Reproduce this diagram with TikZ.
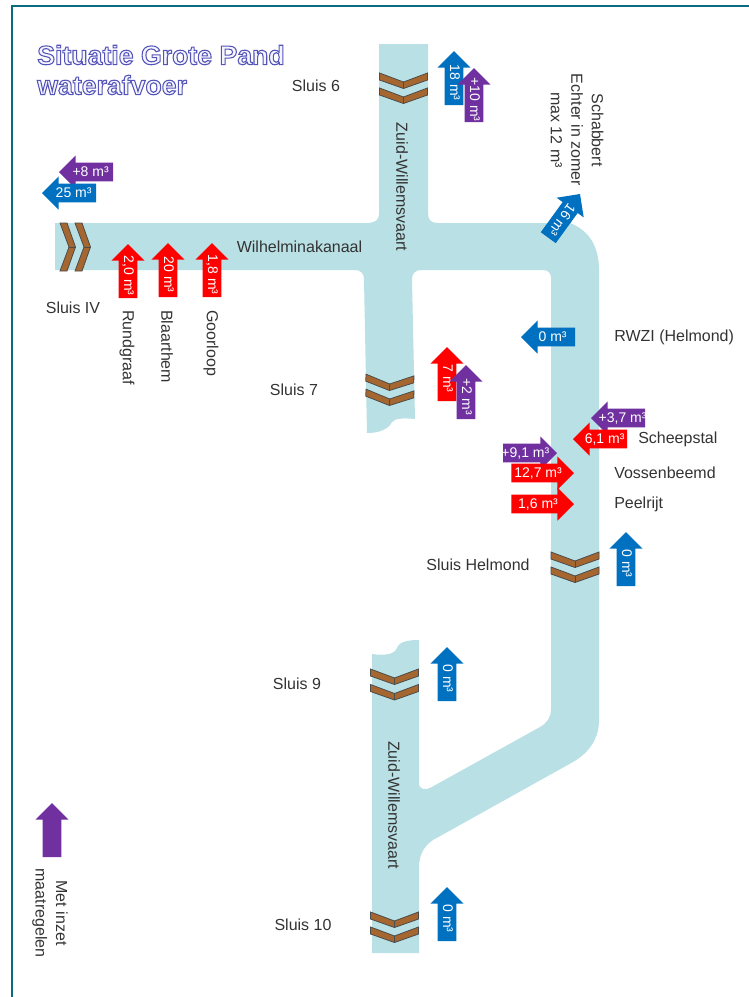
\documentclass[tikz,border=0pt]{standalone}
\usepackage{fontspec}
\setmainfont{Liberation Sans}
\usetikzlibrary{shapes.arrows}

\definecolor{waterkleur}{HTML}{B9E0E4}
\definecolor{kaderkleur}{HTML}{0A6A80}
\definecolor{sluiskleur}{HTML}{A5672F}
\definecolor{blauw}{HTML}{0070C0}
\definecolor{rood}{HTML}{FF0000}
\definecolor{paars}{HTML}{7030A0}
\definecolor{tekstkleur}{HTML}{333333}

\newcommand{\titelregel}[1]{\special{pdf:code 2 Tr 0.8 w 0.33 0.33 0.72 RG 0.96 0.96 1 rg}#1\special{pdf:code 0 Tr}}
\newcommand{\pijltekst}[2][28pt]{\makebox[#1]{#2}}

\tikzset{
  pijl/.style={single arrow, draw=none, anchor=tip, text=white, inner xsep=0pt, inner ysep=0pt, outer sep=0pt,
    single arrow head extend=5.6pt, minimum height=40.5pt,
    text height=9.75pt, text depth=3.75pt,
    font=\fontsize{10.5}{12}\selectfont},
  omhoog/.style={pijl, rotate=-90, shape border rotate=180},
  links/.style={pijl, shape border rotate=180},
  rechts/.style={pijl},
  label/.style={text=tekstkleur, inner sep=0pt, font=\fontsize{12}{15.4}\selectfont},
  pics/sluisdeur/.style={code={
    \filldraw[fill=sluiskleur, draw=black!70, line width=0.6pt]
      (-24,0) -- (0,9) -- (24,0) -- (24,7) -- (0,15.5) -- (-24,7) -- cycle;
    \draw[black!70, line width=0.6pt] (0,9) -- (0,15.5);
  }}
}

\begin{document}
\begin{tikzpicture}[x=0.75pt, y=-0.75pt]

  \useasboundingbox (0,0) rectangle (749,997);

  % kader
  \draw[kaderkleur, line width=1.5pt] (12,997) -- (12,6) -- (749,6);

  % water
  \fill[waterkleur] (379,44) -- (428,44) -- (428,213)
    .. controls (428,220) and (431,223) .. (438,223) -- (570,223)
    .. controls (588,230) and (599,245) .. (599,270) -- (599,720)
    .. controls (599,738) and (590,752) .. (573,762) -- (433,840)
    .. controls (424,846) and (419,855) .. (419,867) -- (419,953) -- (372,953) -- (372,654)
    .. controls (385,656) and (395,654) .. (397,648)
    .. controls (399,641) and (410,640) .. (419,640) -- (419,785)
    .. controls (420,789) and (425,790) .. (430,788) -- (540,727)
    .. controls (547,723) and (551,717) .. (551,710) -- (551,278)
    .. controls (551,273) and (548,270) .. (543,270) -- (422,270)
    .. controls (415,270) and (412,273) .. (412,280) -- (415,419)
    .. controls (405,418) and (395,418) .. (392,422)
    .. controls (388,430) and (378,433) .. (367,433) -- (364,280)
    .. controls (364,273) and (361,270) .. (354,270) -- (55,270) -- (55,223) -- (369,223)
    .. controls (376,222) and (379,220) .. (379,213) -- cycle;

  % sluizen
  \pic at (403.5,73) {sluisdeur};
  \pic at (403.5,88) {sluisdeur};
  \pic[rotate=-2] at (390,375) {sluisdeur};
  \pic[rotate=-2] at (390,390) {sluisdeur};
  \pic at (575,552) {sluisdeur};
  \pic at (575,567) {sluisdeur};
  \pic at (394.5,669) {sluisdeur};
  \pic at (394.5,684.5) {sluisdeur};
  \pic at (394.5,912) {sluisdeur};
  \pic at (394.5,927) {sluisdeur};
  \pic[rotate=90] at (60,247) {sluisdeur};
  \pic[rotate=90] at (75,247) {sluisdeur};

  % pijlen
  \node[links, fill=paars] (acht) at (59,172) {\pijltekst{+8 m³}};
  \node[links, fill=blauw] (vijfentwintig) at (42,193) {\pijltekst{25 m³}};
  \node[omhoog, fill=rood] (rundgraaf) at (128,244) {\pijltekst{2,0 m³}};
  \node[omhoog, fill=rood] (blaarthem) at (168,243) {\pijltekst{20 m³}};
  \node[omhoog, fill=rood] (goorloop) at (212,243) {\pijltekst{1,8 m³}};
  \node[omhoog, fill=blauw] (zes) at (454,51) {\pijltekst{18 m³}};
  \node[omhoog, fill=paars] (tien) at (474,68) {\pijltekst{+10 m³}};
  \node[links, fill=blauw, rotate=-126] (schabbert) at (580,194) {\pijltekst{16 m³}};
  \node[omhoog, fill=rood] (zeven) at (447,347) {\pijltekst{7 m³}};
  \node[omhoog, fill=paars] (twee) at (466,365) {\pijltekst{+2 m³}};
  \node[links, fill=blauw] (rwzi) at (521,337) {\pijltekst{0 m³}};
  \node[links, fill=paars] (drie) at (591,418) {\pijltekst{+3,7 m³}};
  \node[links, fill=rood] (zesEen) at (573,439) {\pijltekst{6,1 m³}};
  \node[rechts, fill=paars] (negen) at (557,453) {\pijltekst{+9,1 m³}};
  \node[rechts, fill=rood, minimum height=47pt] (twaalf) at (574,473) {\pijltekst[34.6pt]{12,7 m³}};
  \node[rechts, fill=rood, minimum height=47pt] (peel) at (574,504) {\pijltekst[34.6pt]{1,6 m³}};
  \node[omhoog, fill=blauw] (helmond) at (626,532) {\pijltekst{0 m³}};
  \node[omhoog, fill=blauw] (negenSluis) at (447,647) {\pijltekst{0 m³}};
  \node[omhoog, fill=blauw] (tienSluis) at (447,887) {\pijltekst{0 m³}};
  \node[omhoog, fill=paars] (legenda) at (52,803) {\pijltekst{}};

  % labels
  \node[inner sep=0pt, anchor=west, align=left, font=\bfseries\fontsize{20}{22.5}\selectfont] (titel) at (37,70)
    {\titelregel{Situatie Grote Pand}\\\titelregel{waterafvoer}};
  \node[label] (sluis6) at (316,86) {Sluis 6};
  \node[label] (sluis7) at (294,390) {Sluis 7};
  \node[label] (sluis9) at (297,684) {Sluis 9};
  \node[label] (sluis10) at (303,925) {Sluis 10};
  \node[label] (sluisIV) at (73,308) {Sluis IV};
  \node[label] (sluisH) at (478,565) {Sluis Helmond};
  \node[label, rotate=-90] (zwvBoven) at (402,187) {Zuid-Willemsvaart};
  \node[label, rotate=-90] (zwvOnder) at (394,805) {Zuid-Willemsvaart};
  \node[label] (wilhelmina) at (299.5,247) {Wilhelminakanaal};
  \node[label, rotate=-90, anchor=west] (tRund) at (127,310) {Rundgraaf};
  \node[label, rotate=-90, anchor=west] (tBlaar) at (167,310) {Blaarthem};
  \node[label, rotate=-90, anchor=west] (tGoor) at (211,310) {Goorloop};
  \node[label, rotate=-90, align=center] (tSchabbert) at (577,130) {Schabbert\\Echter in zomer\\max 12 m³};
  \node[label, anchor=west] (tRwzi) at (614,337) {RWZI (Helmond)};
  \node[label, anchor=west] (tScheep) at (638,439) {Scheepstal};
  \node[label, anchor=west] (tVossen) at (614,473) {Vossenbeemd};
  \node[label, anchor=west] (tPeel) at (614,504) {Peelrijt};
  \node[label, rotate=-90, align=center] (tLegenda) at (50,913) {Met inzet\\maatregelen};

\end{tikzpicture}
\end{document}
